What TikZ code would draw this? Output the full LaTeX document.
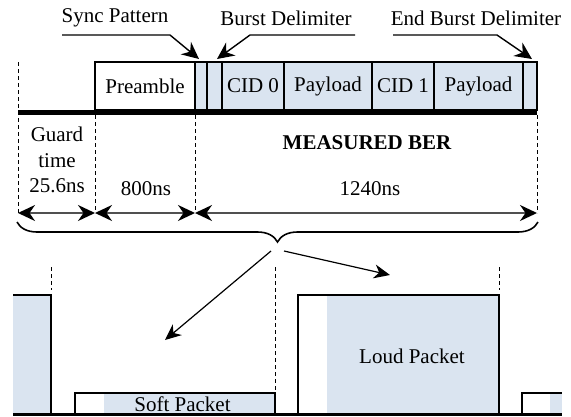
\documentclass[tikz,border=0pt]{standalone}
\usepackage{fontspec}
\setmainfont{Liberation Serif}
\usetikzlibrary{arrows.meta,decorations.pathreplacing}
\definecolor{pktblue}{RGB}{218,228,240}
\definecolor{dimgray}{RGB}{80,80,80}

\begin{document}
\begin{tikzpicture}[x=1pt,y=-1pt,
  font=\fontsize{21}{24}\selectfont,
  seg/.style={draw, line width=1.3pt, fill=pktblue, inner sep=0pt, outer sep=0pt,
              minimum height=48pt, anchor=south west},
  lbl/.style={inner sep=0pt},
  lead/.style={line width=1.4pt, -{Stealth[length=17pt,width=16pt,inset=5.5pt]}},
  dim/.style={dimgray, line width=1.8pt,
              {Stealth[length=17pt,width=16pt,inset=5.5pt,black]}-{Stealth[length=17pt,width=16pt,inset=5.5pt,black]}},
  guide/.style={line width=0.9pt, dash pattern=on 4pt off 3pt},
  spread/.style={line width=1.2pt, -{Stealth[length=16pt,width=14pt,inset=5pt]}},
  base/.style={line width=3.5pt},
  pkt/.style={draw, line width=1.3pt, inner sep=0pt, outer sep=0pt, anchor=south west}]
\useasboundingbox (0,0) rectangle (571,416);

% ---- burst frame ----
\node[seg, fill=white, minimum width=100pt] (pre) at (95,110) {Preamble};
\node[seg, minimum width=12pt] (sy) at (195,110) {};
\node[seg, minimum width=15pt] (bd) at (207,110) {};
\node[seg, minimum width=62pt] (c0) at (222,110) {CID 0};
\node[seg, minimum width=88pt] (p0) at (284,110) {Payload};
\node[seg, minimum width=62pt] (c1) at (372,110) {CID 1};
\node[seg, minimum width=89pt] (p1) at (434,110) {Payload};
\node[seg, minimum width=14pt] (ebd) at (523,110) {};

\coordinate (tl0) at (18,112.5);
\coordinate (tl1) at (537,112.5);
\draw[line width=4.5pt] (tl0) -- (tl1);

% ---- field labels with leaders ----
\node[lbl] (sp) at (115,18) {Sync Pattern};
\node[lbl] (bdl) at (286,18) {Burst Delimiter};
\node[lbl] (ebdl) at (476,18) {End Burst Delimiter};

\coordinate (spA) at (62,35);  \coordinate (spB) at (170,35);  \coordinate (spT) at (199,59);
\coordinate (bdA) at (355,35); \coordinate (bdB) at (250,35);  \coordinate (bdT) at (217,59);
\coordinate (ebA) at (393,35); \coordinate (ebB) at (497,35);  \coordinate (ebT) at (532,59);
\draw[lead] (spA) -- (spB) -- (spT);
\draw[lead] (bdA) -- (bdB) -- (bdT);
\draw[lead] (ebA) -- (ebB) -- (ebT);

% ---- timing guides ----
\coordinate (g0t) at (18,62);   \coordinate (g0) at (18,213);
\coordinate (g1t) at (95,115);  \coordinate (g1) at (95,213);
\coordinate (g2t) at (195,115); \coordinate (g2) at (195,213);
\coordinate (g3t) at (537,115); \coordinate (g3) at (537,213);
\draw[guide] (g0t) -- (g0);
\draw[guide] (g1t) -- (g1);
\draw[guide] (g2t) -- (g2);
\draw[guide] (g3t) -- (g3);

\draw[dim] (g0) -- (g1);
\draw[dim] (g1) -- (g2);
\draw[dim] (g2) -- (g3);

\node[lbl, align=center, font=\fontsize{21}{25.5}\selectfont] (gt) at (57,160) {Guard\\time\\25.6ns};
\node[lbl] (t800) at (146,189) {800ns};
\node[lbl, font=\fontsize{21}{24}\selectfont\bfseries] (mb) at (367,143) {MEASURED BER};
\node[lbl] (t1240) at (370,189) {1240ns};

% ---- brace ----
\coordinate (br0) at (17,222);
\coordinate (br1) at (538,222);
\draw[line width=1.6pt, decorate, decoration={brace, mirror, amplitude=20pt, aspect=0.5}] (br0) -- (br1);

\coordinate (sA) at (271,251); \coordinate (sT) at (165,340);
\coordinate (lA) at (284,251); \coordinate (lT) at (390,275);
\draw[spread] (sA) -- (sT);
\draw[spread] (lA) -- (lT);

% ---- received power view ----
% partial packet on the left
\fill[pktblue] (13,295) rectangle (51,414);
\coordinate (lp0) at (13,295); \coordinate (lp1) at (51,295); \coordinate (lp2) at (51,414);
\draw[line width=1.3pt] (lp0) -- (lp1) -- (lp2);

% soft packet
\fill[pktblue] (104,393) rectangle (275,414);
\node[pkt, minimum width=200pt, minimum height=21pt] (soft) at (75,414) {};
\node[lbl] (softl) at (182.5,404) {Soft Packet};

% loud packet
\fill[pktblue] (327,295) rectangle (499,414);
\node[pkt, minimum width=201pt, minimum height=119pt] (loud) at (298,414) {};
\node[lbl] (loudl) at (412,356) {Loud Packet};

% partial packet on the right
\fill[pktblue] (550,393) rectangle (562,414);
\coordinate (rp0) at (522,414); \coordinate (rp1) at (522,393); \coordinate (rp2) at (562,393);
\draw[line width=1.3pt] (rp0) -- (rp1) -- (rp2);

% guides down to the packets
\coordinate (h0t) at (51,267);  \coordinate (h0) at (51,290);
\coordinate (h1t) at (275,267); \coordinate (h1) at (275,390);
\coordinate (h2t) at (499,267); \coordinate (h2) at (499,290);
\draw[guide] (h0t) -- (h0);
\draw[guide] (h1t) -- (h1);
\draw[guide] (h2t) -- (h2);

% ground line
\coordinate (b0) at (13,414.5);
\coordinate (b1) at (562,414.5);
\draw[base] (b0) -- (b1);
\end{tikzpicture}
\end{document}
